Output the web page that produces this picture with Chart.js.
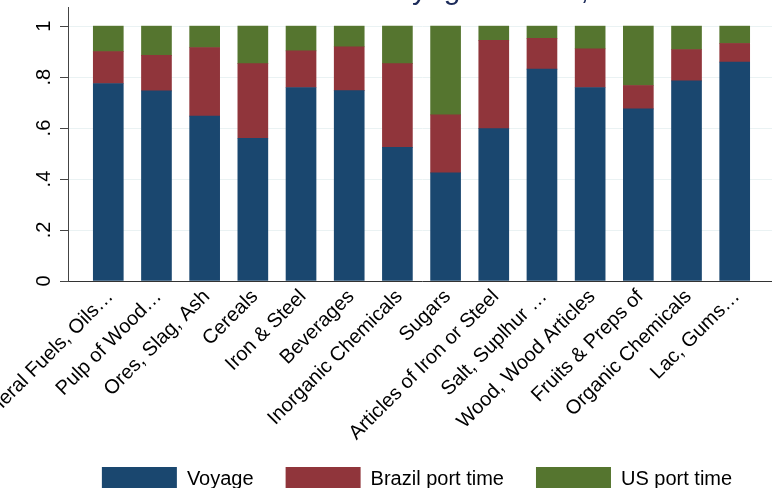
<!DOCTYPE html>
<html>
<head>
<meta charset="utf-8">
<script src="https://cdn.jsdelivr.net/npm/chart.js@4/dist/chart.umd.min.js"></script>
<style>
  html, body { margin: 0; padding: 0; background: #fff; overflow: hidden; width: 772px; height: 488px; }
  /* canvas is larger than the window; the window crops it like the reference */
  #wrap { position: absolute; left: -60px; top: -40px; width: 836px; height: 541px; }
</style>
</head>
<body>
<div id="wrap"><canvas id="chart" width="836" height="541"></canvas></div>
<script>
// Data
const categories = [
  "Mineral Fuels, Oils…", "Pulp of Wood…", "Ores, Slag, Ash", "Cereals",
  "Iron & Steel", "Beverages", "Inorganic Chemicals", "Sugars",
  "Articles of Iron or Steel", "Salt, Suplhur …", "Wood, Wood Articles",
  "Fruits & Preps of", "Organic Chemicals", "Lac, Gums…"
];
const voyage = [0.775, 0.746, 0.647, 0.560, 0.759, 0.747, 0.524, 0.424, 0.598, 0.831, 0.759, 0.675, 0.785, 0.859];
const brazilPort = [0.125, 0.139, 0.269, 0.293, 0.144, 0.172, 0.329, 0.228, 0.346, 0.121, 0.152, 0.092, 0.123, 0.073];
const usPort = [0.100, 0.115, 0.084, 0.147, 0.097, 0.081, 0.147, 0.348, 0.056, 0.048, 0.089, 0.233, 0.092, 0.068];
const yTicks = [0, 0.2, 0.4, 0.6, 0.8, 1];
const yTickLabels = ["0", ".2", ".4", ".6", ".8", "1"];
const titleText = "Time Breakdown: Voyage Shares, Brazil to US";

const FONT = '"Liberation Sans", Arial, Helvetica, sans-serif';
Chart.defaults.font.family = FONT;
Chart.defaults.font.size = 20;
Chart.defaults.color = "#000";

const toPoints = (arr) => arr.map((v, i) => ({ x: i, y: v }));

// Title sits mostly above the visible window (only descenders show)
const titlePlugin = {
  id: "clippedTitle",
  afterLayout(chart) {
    // nudge the legend row a little left, like the Stata layout
    if (chart.legend) {
      chart.legend.left -= 5;
      chart.legend.right -= 5;
    }
    // let the long rotated labels run past the axis box instead of being clipped
    chart.scales.x.bottom += 20;
  },
  afterDraw(chart) {
    const ctx = chart.ctx;
    ctx.save();
    ctx.font = "30px " + FONT;
    ctx.fillStyle = "#1c2b5a";
    ctx.textAlign = "center";
    ctx.textBaseline = "alphabetic";
    ctx.fillText(titleText, 506, 39);
    ctx.restore();
  },
};

new Chart(document.getElementById("chart"), {
  type: "bar",
  data: {
    datasets: [
      { label: "Voyage", data: toPoints(voyage), backgroundColor: "#1a476f" },
      { label: "Brazil port time", data: toPoints(brazilPort), backgroundColor: "#90353b" },
      { label: "US port time", data: toPoints(usPort), backgroundColor: "#55752f" },
    ],
  },
  options: {
    responsive: false,
    animation: false,
    devicePixelRatio: 1,
    layout: { padding: { top: 47, left: 0, right: 0, bottom: 0 } },
    datasets: { bar: { barThickness: 30, borderWidth: 0 } },
    scales: {
      x: {
        type: "linear",
        stacked: true,
        offset: false,
        min: -0.836,
        max: 13.857,
        afterBuildTicks: (scale) => {
          scale.ticks = categories.map((c, i) => ({ value: i }));
        },
        afterFit: (scale) => {
          scale.height = 154;
        },
        grid: { display: false, drawTicks: false, offset: false },
        border: { display: true, color: "#333", width: 1 },
        ticks: {
          autoSkip: false,
          minRotation: 45,
          maxRotation: 45,
          padding: 4,
          labelOffset: 2,
          callback: (v) => categories[v],
        },
      },
      y: {
        stacked: true,
        min: 0,
        max: 1.075,
        afterBuildTicks: (scale) => {
          scale.ticks = yTicks.map((v) => ({ value: v }));
        },
        afterFit: (scale) => {
          scale.width = 128;
        },
        grid: { color: "#eaf2f3", lineWidth: 1, tickColor: "#444", tickLength: 8 },
        border: { display: true, color: "#444", width: 1 },
        ticks: {
          minRotation: 90,
          maxRotation: 90,
          crossAlign: "center",
          padding: 7,
          callback: (v) => yTickLabels[yTicks.indexOf(v)],
        },
      },
    },
    plugins: {
      title: { display: false },
      tooltip: { enabled: false },
      legend: {
        position: "bottom",
        fullSize: false,
        labels: {
          boxWidth: 75,
          boxHeight: 24,
          padding: 32,
          font: { size: 20 },
          color: "#000",
        },
      },
    },
  },
  plugins: [titlePlugin],
});
</script>
</body>
</html>
